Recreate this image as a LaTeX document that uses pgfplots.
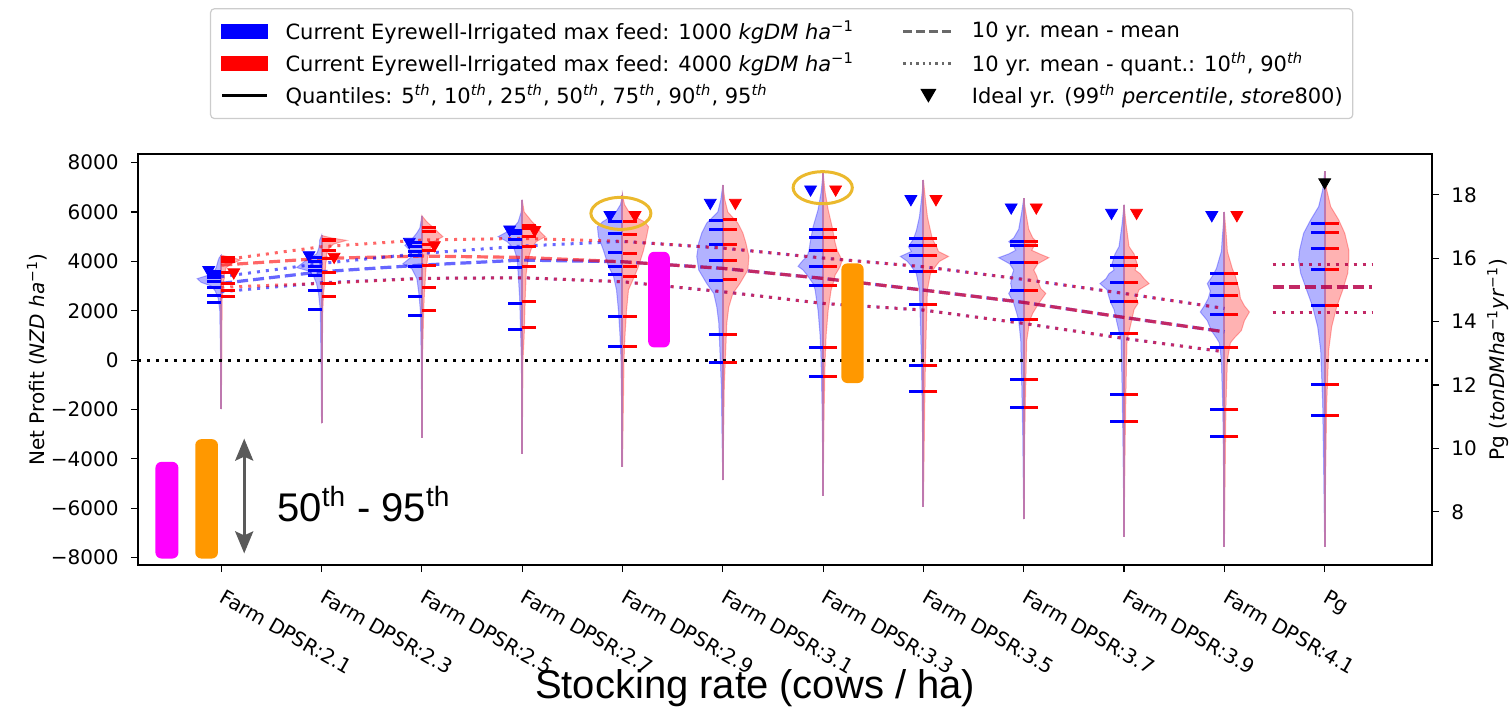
\documentclass[border=0pt]{standalone}
\usepackage{fontspec}
\setmainfont{DejaVu Sans}
\newfontfamily\arialf{Liberation Sans}
\usepackage{pgfplots}
\pgfplotsset{compat=1.18}
\usepackage{pgfplotstable}
\usetikzlibrary{arrows.meta}

\definecolor{vline}{RGB}{190,120,175}
\definecolor{goldc}{RGB}{235,185,45}
\definecolor{orng}{RGB}{255,152,0}
\definecolor{magc}{RGB}{255,0,255}
\definecolor{arrowc}{RGB}{90,90,90}
\definecolor{leggray}{RGB}{105,105,105}

\pgfplotsset{
  vb/.style={fill=blue, fill opacity=0.3, draw=blue, draw opacity=0.3, line width=0.5pt},
  vr/.style={fill=red, fill opacity=0.3, draw=red, draw opacity=0.3, line width=0.5pt},
  qbar/.style={only marks, mark=-, mark size=3.5pt, mark options={line width=1.5pt}},
  tri/.style={only marks, mark=triangle*, mark size=3.4pt, mark options={rotate=180}},
  mline/.style={line width=1.6pt, opacity=0.6, dash pattern=on 5.5pt off 2.5pt},
  dline/.style={line width=1.5pt, opacity=0.6, dash pattern=on 1.5pt off 3pt},
  vl/.style={vline, line width=1pt},
  legblue/.style={legend image code/.code={\fill[blue, sharp corners] (0pt,-3.5pt) rectangle (22.5pt,3.5pt);}},
  legred/.style={legend image code/.code={\fill[red, sharp corners] (0pt,-3.5pt) rectangle (22.5pt,3.5pt);}},
  legq/.style={legend image code/.code={\draw[black, line width=1.5pt] (0pt,0pt) -- (22.5pt,0pt);}},
  legmean/.style={legend image code/.code={\draw[leggray, line width=1.5pt, dash pattern=on 4.5pt off 2pt] (0pt,0pt) -- (25pt,0pt);}},
  legq10/.style={legend image code/.code={\draw[leggray, line width=1.2pt, dash pattern=on 1.2pt off 2pt] (0pt,0pt) -- (25pt,0pt);}},
  legtri/.style={legend image code/.code={\fill[black, sharp corners] (9pt,3pt) -- (16pt,3pt) -- (12.5pt,-3pt) -- cycle;}},
}

\newcommand{\violin}[2]{%
  \addplot[vb] table[x expr=#1-\thisrow{wb}, y=y]{#2} -- cycle;
  \addplot[vr] table[x expr=#1+\thisrow{wr}, y=y]{#2} -- cycle;
}

% quantiles 5,10,25,50,75,90,95 (NZD/ha)
\pgfplotstableread{
c q5 q10 q25 q50 q75 q90 q95
0 2320 2600 2930 3200 3360 3450 3600
1 2070 2800 3420 3620 3810 4010 4150
2 1800 2570 3780 4220 4420 4590 4760
3 1260 2300 3760 4550 4890 5130 5270
4 540 1750 3450 3800 4350 5130 5600
5 -95 1040 3240 4050 4690 5300 5670
6 -675 500 3040 3810 4460 4970 5300
7 -1256 -203 2256 3607 4256 4634 4931
8 -1919 -800 1662 2837 3945 4634 4796
9 -2472 -1391 1081 2364 3134 3823 4161
10 -3080 -1999 500 1851 2634 3107 3513
}\qblue
\pgfplotstableread{
c q5 q10 q25 q50 q75 q90 q95
0 2590 2840 3100 3550 4010 4100 4150
1 2567 3107 3540 4100 4460 4840 4890
2 2030 2930 3850 4460 4700 5230 5360
3 1310 2360 3780 4590 5000 5340 5470
4 540 1756 3400 3780 4320 5090 5630
5 -100 1040 3250 4050 4700 5310 5680
6 -675 500 3040 3810 4460 4970 5300
7 -1256 -203 2256 3607 4256 4634 4931
8 -1919 -800 1662 2837 3945 4634 4796
9 -2472 -1391 1081 2364 3134 3823 4161
10 -3080 -1999 500 1851 2634 3107 3513
}\qred

% ideal year markers
\pgfplotstableread{
c b r
0 3650 3560
1 4256 4188
2 4796 4661
3 5296 5269
4 5877 5877
5 6377 6377
6 6917 6917
7 6525 6525
8 6188 6188
9 5971 5971
10 5877 5877
}\ideal

% 10 yr mean lines: mean, 90th, 10th (blue / red)
\pgfplotstableread{
c mb mr hb hr lb lr
0 3107 3850 3378 4053 2770 2950
1 3580 4120 3918 4593 3134 3107
2 3850 4215 4323 4864 3310 3310
3 4053 4161 4620 4931 3337 3337
4 3985 3985 4810 4810 3175 3175
5 3715 3715 4539 4539 2769 2769
6 3310 3310 4134 4134 2297 2297
7 2837 2837 3783 3783 2027 2027
8 2337 2337 3270 3270 1486 1486
9 1729 1729 2702 2702 878 878
10 1148 1148 2094 2094 338 338
}\means

% violin extents
\pgfplotstableread{
c lo hi
0 -1986 4250
1 -2567 5050
2 -3148 5850
3 -3783 6500
4 -4323 6700
5 -4864 7100
6 -5499 7600
7 -5945 7300
8 -6444 6550
9 -7161 6300
10 -7567 6000
}\extent

% violin half widths
\pgfplotstableread{
y wb wr
4250 0 0
4150 0.02 0.12
4050 0.03 0.19
3900 0.04 0.1
3750 0.05 0.05
3600 0.07 0.04
3450 0.12 0.03
3300 0.24 0.03
3150 0.2 0.02
3000 0.1 0.02
2800 0.06 0.015
2500 0.03 0.01
2000 0.015 0.008
0 0.006 0.005
-1986 0 0
}\vA
\pgfplotstableread{
y wb wr
5050 0 0
4950 0.01 0.1
4850 0.02 0.25
4700 0.02 0.12
4500 0.03 0.07
4300 0.05 0.05
4100 0.14 0.05
3900 0.2 0.04
3750 0.25 0.04
3600 0.12 0.035
3400 0.08 0.03
3100 0.05 0.03
2700 0.03 0.02
2000 0.012 0.012
0 0.006 0.006
-2567 0 0
}\vB
\pgfplotstableread{
y wb wr
5850 0 0
5600 0.01 0.05
5350 0.02 0.12
5150 0.05 0.17
5000 0.08 0.21
4800 0.12 0.12
4650 0.17 0.09
4450 0.12 0.08
4200 0.1 0.06
3900 0.19 0.05
3700 0.1 0.04
3300 0.05 0.035
2700 0.03 0.025
2000 0.015 0.018
0 0.006 0.006
-3148 0 0
}\vC
\pgfplotstableread{
y wb wr
6500 0 0
6000 0.01 0.02
5600 0.04 0.1
5400 0.08 0.15
5200 0.15 0.18
5000 0.24 0.23
4800 0.15 0.14
4500 0.08 0.09
4100 0.05 0.06
3500 0.04 0.04
2500 0.025 0.03
1000 0.015 0.02
0 0.008 0.008
-3783 0 0
}\vD
\pgfplotstableread{
y wb wr
6700 0 0
6300 0.02 0.02
5900 0.08 0.08
5600 0.2 0.22
5400 0.25 0.26
5000 0.24 0.24
4450 0.19 0.21
3800 0.14 0.16
3400 0.09 0.12
2850 0.06 0.06
2000 0.04 0.04
1000 0.025 0.025
0 0.015 0.015
-2000 0.008 0.008
-4323 0 0
}\vE
\pgfplotstableread{
y wb wr
7100 0 0
6500 0.02 0.02
6000 0.05 0.05
5550 0.16 0.15
5150 0.21 0.2
4750 0.24 0.23
4200 0.26 0.26
3650 0.24 0.25
3100 0.16 0.17
2700 0.09 0.1
2150 0.06 0.06
1500 0.04 0.04
500 0.03 0.03
-1000 0.015 0.015
-3000 0.008 0.008
-4864 0 0
}\vF
\pgfplotstableread{
y wb wr
7600 0 0
6800 0.02 0.02
6100 0.05 0.05
5400 0.1 0.09
4750 0.13 0.12
4450 0.14 0.14
4200 0.16 0.17
4050 0.2 0.19
3800 0.25 0.17
3650 0.2 0.15
3450 0.16 0.12
3100 0.1 0.1
2850 0.08 0.08
2000 0.05 0.05
1000 0.03 0.03
0 0.02 0.02
-2000 0.01 0.01
-5499 0 0
}\vG
\pgfplotstableread{
y wb wr
7300 0 0
6500 0.02 0.02
5800 0.04 0.04
5250 0.07 0.07
4900 0.1 0.09
4600 0.15 0.13
4400 0.12 0.15
4200 0.23 0.25
4000 0.16 0.16
3850 0.13 0.13
3500 0.07 0.07
2850 0.04 0.04
1500 0.03 0.03
0 0.02 0.02
-2000 0.012 0.012
-4000 0.006 0.006
-5945 0 0
}\vH
\pgfplotstableread{
y wb wr
6550 0 0
6000 0.02 0.02
5300 0.05 0.05
4950 0.1 0.09
4800 0.15 0.13
4600 0.1 0.1
4450 0.08 0.08
4300 0.15 0.16
4150 0.25 0.25
3900 0.14 0.14
3650 0.1 0.1
3400 0.12 0.13
3100 0.13 0.15
2900 0.12 0.17
2700 0.15 0.22
2300 0.1 0.15
1900 0.07 0.09
1600 0.05 0.06
800 0.03 0.03
-1000 0.02 0.02
-3000 0.01 0.01
-6444 0 0
}\vI
\pgfplotstableread{
y wb wr
6300 0 0
5500 0.02 0.02
4600 0.05 0.05
4300 0.09 0.1
3900 0.12 0.13
3650 0.1 0.11
3500 0.15 0.16
3300 0.18 0.2
3100 0.24 0.25
2850 0.17 0.15
2550 0.15 0.12
2300 0.13 0.14
2050 0.1 0.1
1500 0.07 0.07
800 0.03 0.03
-1000 0.02 0.02
-3000 0.012 0.012
-5000 0.006 0.006
-7161 0 0
}\vJ
\pgfplotstableread{
y wb wr
6000 0 0
5000 0.02 0.02
4400 0.03 0.03
3700 0.08 0.08
3400 0.12 0.11
3100 0.17 0.13
2800 0.14 0.15
2500 0.16 0.16
2200 0.2 0.2
1950 0.24 0.25
1600 0.17 0.2
1200 0.13 0.17
900 0.08 0.1
700 0.05 0.06
0 0.03 0.03
-2000 0.015 0.015
-4500 0.008 0.008
-7567 0 0
}\vK
% Pg violin (ton DM/ha/yr, right axis)
\pgfplotstableread{
y wb wr
18.74 0 0
18.16 0.02 0.02
17.63 0.06 0.06
17.21 0.14 0.14
16.79 0.21 0.2
16.26 0.25 0.24
15.95 0.26 0.24
15.53 0.24 0.23
15.0 0.18 0.18
14.47 0.12 0.12
13.84 0.07 0.07
13.1 0.04 0.04
11.42 0.02 0.02
9.32 0.01 0.01
6.89 0 0
}\vPg

\begin{document}
\begin{tikzpicture}
\begin{axis}[
  name=ax,
  scale only axis, width=647pt, height=205.5pt,
  xmin=-0.83, xmax=12.07, ymin=-8300, ymax=8350,
  xtick={0,...,11},
  xticklabels={Farm DPSR:2.1,Farm DPSR:2.3,Farm DPSR:2.5,Farm DPSR:2.7,Farm DPSR:2.9,Farm DPSR:3.1,Farm DPSR:3.3,Farm DPSR:3.5,Farm DPSR:3.7,Farm DPSR:3.9,Farm DPSR:4.1,Pg},
  ytick={-8000,-6000,...,8000},
  yticklabels={−8000,−6000,−4000,−2000,0,2000,4000,6000,8000},
  xtick pos=left, ytick pos=left,
  tick align=outside, major tick length=3.5pt,
  tick style={black, line width=0.6pt},
  axis line style={line width=0.8pt},
  ticklabel style={font=\fontsize{10}{12}\selectfont},
  xticklabel style={xshift=2.5pt, yshift=-8pt, rotate=-30, anchor=north west, inner sep=0pt},
  yticklabel style={inner sep=0pt, xshift=-6pt},
  ylabel={Net Profit (\textit{NZD ha}\textsuperscript{−1})},
  ylabel style={at={(axis description cs:-0.078,0.5)}, anchor=center, font=\fontsize{10}{12}\selectfont},
  xlabel={Stocking rate (cows / ha)},
  xlabel style={at={(axis description cs:0.477,-0.30)}, anchor=center, font=\arialf\fontsize{20}{24}\selectfont},
  legend columns=2,
  legend cell align=left,
  legend style={at={(0.0556,1.355)}, anchor=north west,
    draw=black!20, line width=0.6pt, rounded corners=2pt,
    font=\fontsize{10.5}{12.5}\selectfont,
    inner xsep=5pt, inner ysep=6pt, row sep=5pt,
    nodes={inner sep=0pt},
    /tikz/every odd column/.append style={column sep=8.5pt},
    /tikz/every even column/.append style={column sep=24pt}},
]
\addlegendimage{legblue}
\addlegendentry{Current Eyrewell-Irrigated max feed: 1000 \textit{kgDM ha}\textsuperscript{−1}}
\addlegendimage{legmean}
\addlegendentry{10 yr. mean - mean}
\addlegendimage{legred}
\addlegendentry{Current Eyrewell-Irrigated max feed: 4000 \textit{kgDM ha}\textsuperscript{−1}}
\addlegendimage{legq10}
\addlegendentry{10 yr. mean - quant.: 10\textsuperscript{\textit{th}}, 90\textsuperscript{\textit{th}}}
\addlegendimage{legq}
\addlegendentry{Quantiles: 5\textsuperscript{\textit{th}}, 10\textsuperscript{\textit{th}}, 25\textsuperscript{\textit{th}}, 50\textsuperscript{\textit{th}}, 75\textsuperscript{\textit{th}}, 90\textsuperscript{\textit{th}}, 95\textsuperscript{\textit{th}}}
\addlegendimage{legtri}
\addlegendentry{Ideal yr. (99\textsuperscript{\textit{th}} \textit{percentile},\ \textit{store}800)}

% violins
\violin{0}{\vA}
\violin{1}{\vB}
\violin{2}{\vC}
\violin{3}{\vD}
\violin{4}{\vE}
\violin{5}{\vF}
\violin{6}{\vG}
\violin{7}{\vH}
\violin{8}{\vI}
\violin{9}{\vJ}
\violin{10}{\vK}

% violin extents
\addplot[vl, ycomb] table[x=c, y=hi]{\extent};
\addplot[vl, ycomb] table[x=c, y=lo]{\extent};

% zero line
\addplot[black, line width=1.5pt, dash pattern=on 1.5pt off 3pt] coordinates {(-0.83,0) (12.07,0)};

% quantile bars
\pgfplotsinvokeforeach{q5,q10,q25,q50,q75,q90,q95}{
  \addplot[qbar, blue] table[x expr=\thisrow{c}-0.07, y=#1]{\qblue};
  \addplot[qbar, red] table[x expr=\thisrow{c}+0.07, y=#1]{\qred};
}

% 10 yr mean lines
\addplot[mline, blue] table[x=c, y=mb]{\means};
\addplot[mline, red] table[x=c, y=mr]{\means};
\addplot[dline, blue] table[x=c, y=hb]{\means};
\addplot[dline, red] table[x=c, y=hr]{\means};
\addplot[dline, blue] table[x=c, y=lb]{\means};
\addplot[dline, red] table[x=c, y=lr]{\means};

% ideal year
\addplot[tri, blue] table[x expr=\thisrow{c}-0.125, y=b]{\ideal};
\addplot[tri, red] table[x expr=\thisrow{c}+0.125, y=r]{\ideal};

% highlighted 50th-95th ranges
\addplot[fill=magc, draw=none, rounded corners=3pt] coordinates {(4.256,515) (4.472,515) (4.472,4389) (4.256,4389)} -- cycle;
\addplot[fill=orng, draw=none, rounded corners=3pt] coordinates {(6.182,-930) (6.404,-930) (6.404,3919) (6.182,3919)} -- cycle;
\addplot[fill=magc, draw=none, rounded corners=3pt] coordinates {(-0.656,-8037) (-0.427,-8037) (-0.427,-4122) (-0.656,-4122)} -- cycle;
\addplot[fill=orng, draw=none, rounded corners=3pt] coordinates {(-0.259,-8037) (-0.033,-8037) (-0.033,-3202) (-0.259,-3202)} -- cycle;
\addplot[arrowc, line width=1.5pt, {Stealth[length=11pt,width=9pt,inset=2pt]}-{Stealth[length=11pt,width=9pt,inset=2pt]}] coordinates {(0.229,-3180) (0.229,-7830)};
\node[anchor=base west, inner sep=0pt, font=\arialf\fontsize{20}{24}\selectfont] at (axis cs:0.555,-6554) {50\textsuperscript{th} - 95\textsuperscript{th}};

\draw[goldc, line width=1.5pt] (axis cs:3.984,5945) ellipse [x radius=15pt, y radius=8pt];
\draw[goldc, line width=1.5pt] (axis cs:5.996,6985) ellipse [x radius=14.8pt, y radius=8pt];
\end{axis}

\begin{axis}[
  scale only axis, width=647pt, height=205.5pt,
  xmin=-0.83, xmax=12.07, ymin=6.32, ymax=19.29,
  axis x line=none, axis y line*=right,
  ytick={8,10,...,18},
  tick align=outside, major tick length=3.5pt,
  tick style={black, line width=0.6pt},
  axis line style={line width=0.8pt},
  /pgf/number format/assume math mode=true,
  ticklabel style={font=\fontsize{10}{12}\selectfont},
  yticklabel style={inner sep=0pt, xshift=6pt},
  ylabel={Pg (\textit{tonDMha}\textsuperscript{−1}\textit{yr}\textsuperscript{−1})},
  ylabel style={at={(axis description cs:1.051,0.5)}, anchor=center, font=\fontsize{10}{12}\selectfont},
]
\violin{11}{\vPg}
\addplot[vl] coordinates {(11,6.89) (11,18.74)};
\addplot[qbar, blue] coordinates {(10.93,11.03) (10.93,12.02) (10.93,14.50) (10.93,15.63) (10.93,16.32) (10.93,16.82) (10.93,17.11)};
\addplot[qbar, red] coordinates {(11.07,11.03) (11.07,12.02) (11.07,14.50) (11.07,15.63) (11.07,16.32) (11.07,16.82) (11.07,17.11)};
\addplot[mline, blue] coordinates {(10.48,15.09) (11.47,15.09)};
\addplot[mline, red] coordinates {(10.48,15.09) (11.47,15.09)};
\addplot[dline, blue] coordinates {(10.48,15.79) (11.47,15.79)};
\addplot[dline, red] coordinates {(10.48,15.79) (11.47,15.79)};
\addplot[dline, blue] coordinates {(10.48,14.30) (11.47,14.30)};
\addplot[dline, red] coordinates {(10.48,14.30) (11.47,14.30)};
\addplot[tri, black] coordinates {(11,18.40)};
\end{axis}
\pgfresetboundingbox
\path ([shift={(-69pt,-72.5pt)}]ax.south west) rectangle ([shift={(39.5pt,77pt)}]ax.north east);
\end{tikzpicture}
\end{document}
